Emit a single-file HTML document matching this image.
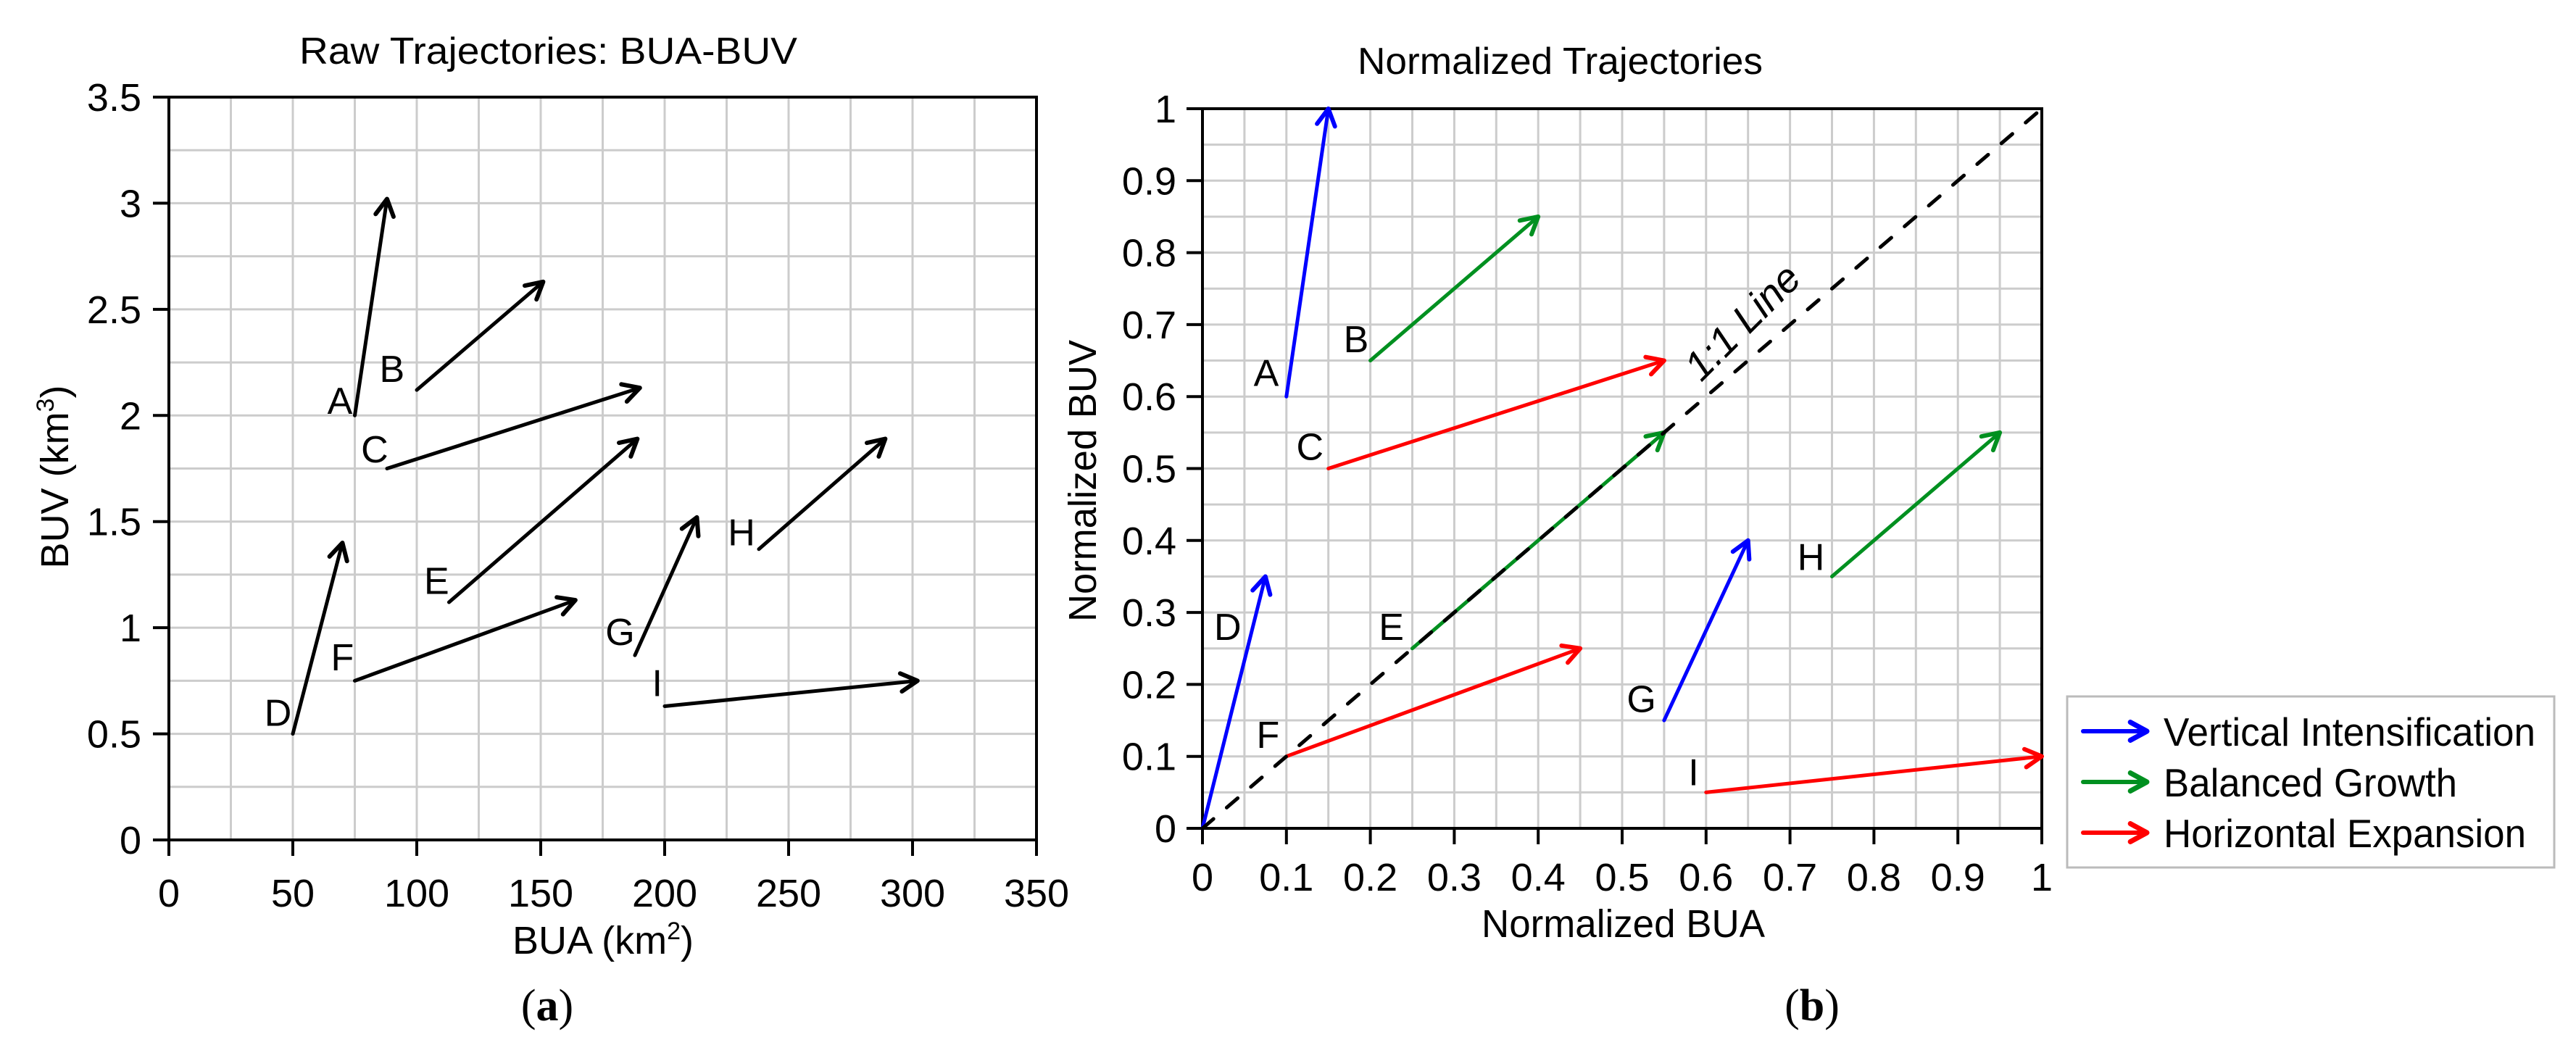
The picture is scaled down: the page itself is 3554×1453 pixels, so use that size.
<!DOCTYPE html>
<html><head><meta charset="utf-8">
<style>
html,body{margin:0;padding:0;background:#fff;}
svg{display:block;}
text{font-family:"Liberation Sans Narrow","Liberation Sans",sans-serif;fill:#000;}
</style></head>
<body>
<svg id="fig" width="3554" height="1453" viewBox="0 0 3554 1453" xmlns="http://www.w3.org/2000/svg">
<g id="pa"></g>
<g id="pb"></g>
<g id="legend">
  <rect x="2852" y="961" width="672" height="236" fill="#fff" stroke="#bbb" stroke-width="3"/>
</g>
</svg>
<script>
// ---- Panel (a) data ----
const rawLabels = ["A","B","C","D","E","F","G","H","I"];
const rawX0 = [75,100,88,50,113,75,188,238,200];
const rawY0 = [2.0,2.12,1.75,0.5,1.12,0.75,0.87,1.37,0.63];
const rawX1 = [88,151,190,70,189,164,213,289,302];
const rawY1 = [3.02,2.63,2.13,1.4,1.89,1.13,1.52,1.89,0.75];
const rawLabX = [69,90,83,44,108,70,182,231,197];
const rawLabY = [2.07,2.22,1.84,0.6,1.22,0.86,0.98,1.45,0.74];
const rawXTicks = [0,50,100,150,200,250,300,350];
const rawYTicks = [0,0.5,1,1.5,2,2.5,3,3.5];
// ---- Panel (b) data ----
const normLabels = ["A","B","C","D","E","F","G","H","I"];
const normCat = ["v","b","h","v","b","h","v","b","h"];
const normX0 = [0.1,0.2,0.15,0,0.25,0.1,0.55,0.75,0.6];
const normY0 = [0.6,0.65,0.5,0,0.25,0.1,0.15,0.35,0.05];
const normX1 = [0.15,0.4,0.55,0.075,0.55,0.45,0.65,0.95,1.0];
const normY1 = [1.0,0.85,0.65,0.35,0.55,0.25,0.4,0.55,0.1];
const normLabX = [0.076,0.183,0.128,0.03,0.225,0.078,0.523,0.725,0.585];
const normLabY = [0.633,0.68,0.53,0.28,0.28,0.13,0.18,0.377,0.078];
const normTicks = [0,0.1,0.2,0.3,0.4,0.5,0.6,0.7,0.8,0.9,1];
const legendNames = ["Vertical Intensification","Balanced Growth","Horizontal Expansion"];
const legendKeys = ["v","b","h"];
const legendWidths = [513,405,500];

const colors = {v:"#0000ff", b:"#009020", h:"#ff0000", k:"#000"};
const NS = "http://www.w3.org/2000/svg";
function mk(parent, tag, attrs, txt){
  const e = document.createElementNS(NS, tag);
  for (const k in attrs) e.setAttribute(k, attrs[k]);
  if (txt !== undefined) e.textContent = txt;
  parent.appendChild(e);
  return e;
}
function fit(e,w){ e.setAttribute("textLength",w); e.setAttribute("lengthAdjust","spacingAndGlyphs"); }
function arrow(g, x0,y0,x1,y1,col,w){
  const ln = mk(g,"line",{x1:x0,y1:y0,x2:x1,y2:y1,stroke:col,"stroke-width":w,"stroke-linecap":"round"});
  
  
  const a = Math.atan2(y1-y0,x1-x0), L = 26, s = 0.5;
  const p = `${x1-L*Math.cos(a-s)},${y1-L*Math.sin(a-s)} ${x1},${y1} ${x1-L*Math.cos(a+s)},${y1-L*Math.sin(a+s)}`;
  const h = mk(g,"polyline",{points:p,fill:"none",stroke:col,"stroke-width":w+1,"stroke-linecap":"round","stroke-linejoin":"round"});
  
  
}

// ---------- Panel A ----------
(function(){
  const g = document.getElementById("pa");
  const L=233,R=1430,T=134,B=1159, xmax=350, ymax=3.5;
  const sx = v => L + v/xmax*(R-L), sy = v => B - v/ymax*(B-T);
  for (let v=25; v<xmax; v+=25){ const e=mk(g,"line",{x1:sx(v),x2:sx(v),y1:T,y2:B,stroke:"#cccccc","stroke-width":3});
      }
  for (let v=0.25; v<ymax-0.01; v+=0.25){ const e=mk(g,"line",{x1:L,x2:R,y1:sy(v),y2:sy(v),stroke:"#cccccc","stroke-width":3});
      }
  const fr = mk(g,"rect",{x:L,y:T,width:R-L,height:B-T,fill:"none",stroke:"#000","stroke-width":4});
   
  rawXTicks.forEach(v=>{
    const t=mk(g,"line",{x1:sx(v),x2:sx(v),y1:B,y2:B+22,stroke:"#000","stroke-width":4});
     
    const l=mk(g,"text",{x:sx(v),y:B+92,"font-size":54,"text-anchor":"middle"},String(v));
     
  });
  rawYTicks.forEach(v=>{
    const t=mk(g,"line",{x1:L-22,x2:L,y1:sy(v),y2:sy(v),stroke:"#000","stroke-width":4});
     
    const l=mk(g,"text",{x:L-38,y:sy(v)+19,"font-size":54,"text-anchor":"end"},String(v));
     
  });
  rawLabels.forEach((n,i)=>{
    arrow(g, sx(rawX0[i]),sy(rawY0[i]),sx(rawX1[i]),sy(rawY1[i]),"#000",5);
    const l=mk(g,"text",{x:sx(rawLabX[i]),y:sy(rawLabY[i])+18,"font-size":52,"text-anchor":"middle"},n);
     
  });
  const t1=mk(g,"text",{x:413,y:88,"font-size":52},"Raw Trajectories: BUA-BUV");
  fit(t1,687);
   
  const xt=mk(g,"text",{x:832,y:1316,"font-size":54,"text-anchor":"middle"});
  xt.innerHTML='BUA (km<tspan font-size="34" dy="-20">2</tspan><tspan dy="20">)</tspan>';
   
  const yt=mk(g,"text",{x:0,y:0,"font-size":54,"text-anchor":"middle",transform:"translate(94,658) rotate(-90)"});
  yt.innerHTML='BUV (km<tspan font-size="34" dy="-20">3</tspan><tspan dy="20">)</tspan>';
   
  const pl=mk(g,"text",{x:755,y:1408,"font-size":62,"text-anchor":"middle","style":"font-family:'Liberation Serif',serif"});
  pl.innerHTML='(<tspan font-weight="bold">a</tspan>)';
   
})();

// ---------- Panel B ----------
(function(){
  const g = document.getElementById("pb");
  const L=1659,R=2817,T=150,B=1143;
  const sx = v => L + v*(R-L), sy = v => B - v*(B-T);
  for (let k=1;k<20;k++){ const v=k/20;
    const e1=mk(g,"line",{x1:sx(v),x2:sx(v),y1:T,y2:B,stroke:"#cccccc","stroke-width":3});
     
    const e2=mk(g,"line",{x1:L,x2:R,y1:sy(v),y2:sy(v),stroke:"#cccccc","stroke-width":3});
      }
  const fr = mk(g,"rect",{x:L,y:T,width:R-L,height:B-T,fill:"none",stroke:"#000","stroke-width":4});
   
  normTicks.forEach(v=>{
    const t=mk(g,"line",{x1:sx(v),x2:sx(v),y1:B,y2:B+22,stroke:"#000","stroke-width":4});
     
    const l=mk(g,"text",{x:sx(v),y:B+86,"font-size":54,"text-anchor":"middle"},String(v));
     
    const t2=mk(g,"line",{x1:L-22,x2:L,y1:sy(v),y2:sy(v),stroke:"#000","stroke-width":4});
     
    const l2=mk(g,"text",{x:L-36,y:sy(v)+19,"font-size":54,"text-anchor":"end"},String(v));
     
  });
  normLabels.forEach((n,i)=>{
    arrow(g, sx(normX0[i]),sy(normY0[i]),sx(normX1[i]),sy(normY1[i]),colors[normCat[i]],5);
    const l=mk(g,"text",{x:sx(normLabX[i]),y:sy(normLabY[i])+18,"font-size":52,"text-anchor":"middle"},n);
     
  });
  const dl=mk(g,"line",{x1:sx(0),y1:sy(0),x2:sx(1),y2:sy(1),stroke:"#000","stroke-width":5,"stroke-dasharray":"20 24","stroke-linecap":"round"});
   
  const ll=mk(g,"text",{x:0,y:0,"font-size":56,"text-anchor":"middle","font-style":"italic",transform:`translate(${sx(0.655)},${sy(0.69)}) rotate(-45)`},"1:1 Line");
   
  const t1=mk(g,"text",{x:1873,y:102,"font-size":52},"Normalized Trajectories");
  fit(t1,559);
   
  const xt=mk(g,"text",{x:2044,y:1293,"font-size":54},"Normalized BUA");
  fit(xt,391);
   
  const yt=mk(g,"text",{x:-195,y:0,"font-size":54,transform:"translate(1512,663) rotate(-90)"},"Normalized BUV");
  fit(yt,389);
   
  const pl=mk(g,"text",{x:2500,y:1408,"font-size":62,"text-anchor":"middle","style":"font-family:'Liberation Serif',serif"});
  pl.innerHTML='(<tspan font-weight="bold">b</tspan>)';
   
})();

// ---------- Legend ----------
(function(){
  const g = document.getElementById("legend");
  legendNames.forEach((n,i)=>{
    const y = 1009 + i*70;
    const ge = mk(g,"g",{});
    
    
    arrow(ge, 2874, y, 2962, y, colors[legendKeys[i]], 6);
    const t = mk(ge,"text",{x:2985,y:y+20,"font-size":55},n);
    fit(t, legendWidths[i]);
    
    
  });
})();
</script>
</body></html>
